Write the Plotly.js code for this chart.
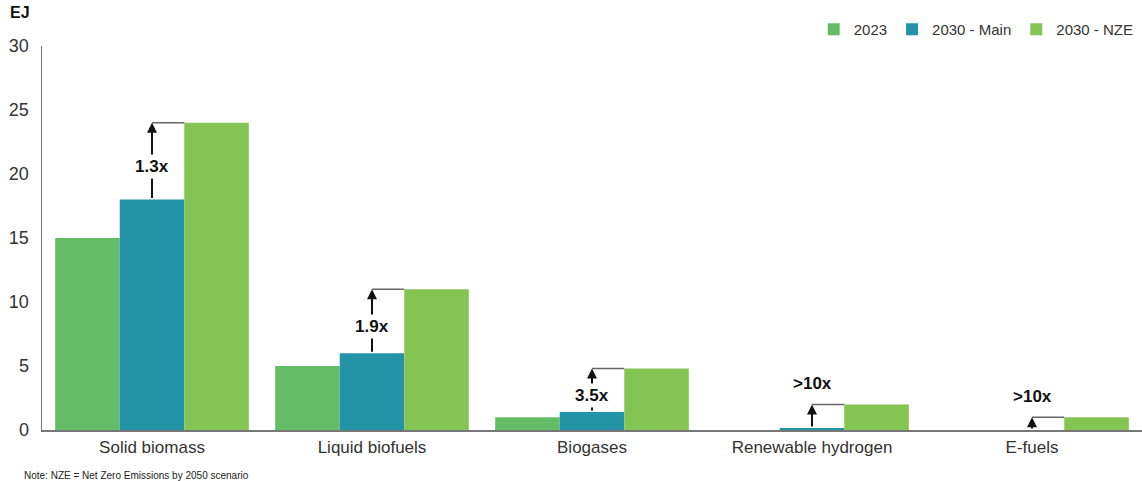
<!DOCTYPE html>
<html>
<head>
<meta charset="utf-8">
<script src="https://cdn.plot.ly/plotly-3.0.1.min.js"></script>
<style>html,body{margin:0;padding:0;background:#fff;}#chart{width:1142px;height:481px;}</style>
</head>
<body>
<div id="chart"></div>
<script>
const categories = ["Solid biomass", "Liquid biofuels", "Biogases", "Renewable hydrogen", "E-fuels"];
const seriesNames = ["2023", "2030 - Main", "2030 - NZE"];
const values2023 = [15, 5, 1.0, 0, 0];
const valuesMain = [18, 6, 1.4, 0.15, 0];
const valuesNZE = [24, 11, 4.8, 2, 1];
const multipliers = ["1.3x", "1.9x", "3.5x", ">10x", ">10x"];
const labelAbove = [false, false, false, true, true];
const yTicks = [0, 5, 10, 15, 20, 25, 30];

const colors = ["#64bc67", "#2394a7", "#84c453"];
const font = "Liberation Sans, Arial, sans-serif";

const traces = [values2023, valuesMain, valuesNZE].map((v, i) => ({
  type: "bar", name: seriesNames[i], x: categories, y: v,
  marker: {color: colors[i], line: {width: 0}}, hoverinfo: "skip"
}));

const bargap = 0.12;
const barW = (1 - bargap) / 3;
const shapes = [];
const annotations = [];
categories.forEach((c, i) => {
  const a = valuesMain[i], b = valuesNZE[i];
  shapes.push({type: "line", xref: "x", yref: "y", x0: i, x1: i + barW / 2, y0: b, y1: b,
    line: {color: "#666", width: 1.5}});
  annotations.push({xref: "x", yref: "y", axref: "x", ayref: "y", x: i, y: b, ax: i, ay: a,
    text: "", showarrow: true, arrowhead: 2, arrowsize: 1, arrowwidth: 2, arrowcolor: "#111", standoff: 0, startstandoff: 0});
  if (labelAbove[i]) {
    annotations.push({xref: "x", yref: "y", x: i, y: b, yanchor: "bottom", yshift: 9, text: "<b>" + multipliers[i] + "</b>",
      showarrow: false, font: {family: font, size: 17, color: "#111"}});
  } else {
    annotations.push({xref: "x", yref: "y", x: i, y: (a + b) / 2, yshift: -5, text: "<b>" + multipliers[i] + "</b>",
      showarrow: false, bgcolor: "#fff", borderpad: 2, font: {family: font, size: 17, color: "#111"}});
  }
});
annotations.push({xref: "paper", yref: "paper", x: -0.031, y: 1.06, xanchor: "left", yanchor: "bottom",
  text: "<b>EJ</b>", showarrow: false, font: {family: font, size: 16, color: "#111"}});
annotations.push({xref: "paper", yref: "paper", x: -0.018, y: -0.1, xanchor: "left", yanchor: "top",
  text: "Note: NZE = Net Zero Emissions by 2050 scenario", showarrow: false, font: {family: font, size: 10, color: "#222"}});

const layout = {
  width: 1142, height: 481,
  margin: {l: 42, r: 0, t: 46, b: 51},
  paper_bgcolor: "#fff", plot_bgcolor: "#fff",
  font: {family: font, color: "#333"},
  barmode: "group", bargap: bargap, bargroupgap: 0,
  showlegend: true,
  legend: {orientation: "h", x: 0.997, xanchor: "right", y: 1.0, yanchor: "bottom",
    font: {family: font, size: 15, color: "#333"}, traceorder: "normal", itemwidth: 30},
  xaxis: {type: "category", showline: true, linecolor: "#777", linewidth: 1.5, ticks: "",
    tickfont: {family: font, size: 17, color: "#333"}, ticklabelstandoff: 1, showgrid: false, zeroline: false, fixedrange: true},
  yaxis: {range: [0, 30], tickvals: yTicks, showline: true, linecolor: "#777", linewidth: 1.5, ticks: "",
    tickfont: {family: font, size: 18, color: "#333"}, ticklabelstandoff: 8, showgrid: false, zeroline: false, fixedrange: true},
  shapes: shapes,
  annotations: annotations
};

Plotly.newPlot("chart", traces, layout, {displayModeBar: false, staticPlot: true});
</script>
</body>
</html>
